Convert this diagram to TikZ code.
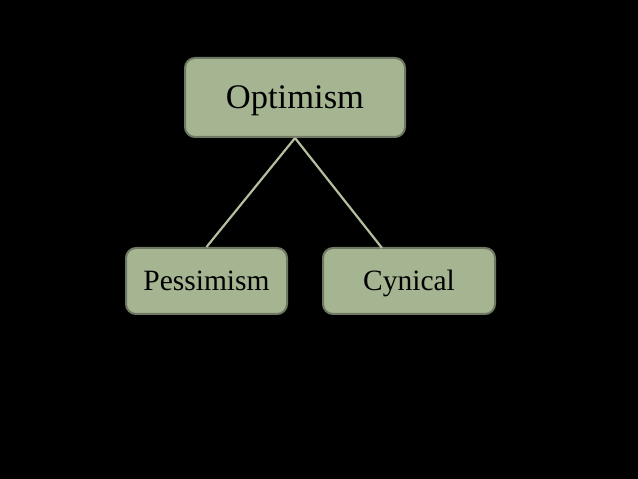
\documentclass[tikz,border=0pt]{standalone}
\usepackage{fontspec}
\setmainfont{Liberation Serif}
\definecolor{boxfill}{HTML}{A5B592}
\definecolor{boxline}{HTML}{6E7862}
\definecolor{linkcol}{HTML}{B3BF9F}
\begin{document}
\begin{tikzpicture}[x=1pt,y=1pt,
  card/.style={draw=boxline, line width=2pt, fill=boxfill, rounded corners=10pt, inner sep=0pt, text=black, text depth=0pt},
  link/.style={draw=linkcol, line width=2.2pt}]
\fill[black] (0,0) rectangle (638,479);
\useasboundingbox (0,0) rectangle (638,479);
\node[card, minimum width=220pt, minimum height=79pt, text height=22.8pt, font=\fontsize{34.5}{40}\selectfont] (opt) at (295,381.5) {Optimism};
\node[card, minimum width=161pt, minimum height=66pt, text height=19.5pt, font=\fontsize{29.5}{35}\selectfont] (pes) at (206.5,198) {Pessimism};
\node[card, minimum width=172pt, minimum height=66pt, text height=19.5pt, font=\fontsize{29.5}{35}\selectfont] (cyn) at (409,198) {Cynical};
\coordinate (cyntop) at (382,231);
\draw[link] (opt.south) -- (pes.north);
\draw[link] (opt.south) -- (cyntop);
\end{tikzpicture}
\end{document}
